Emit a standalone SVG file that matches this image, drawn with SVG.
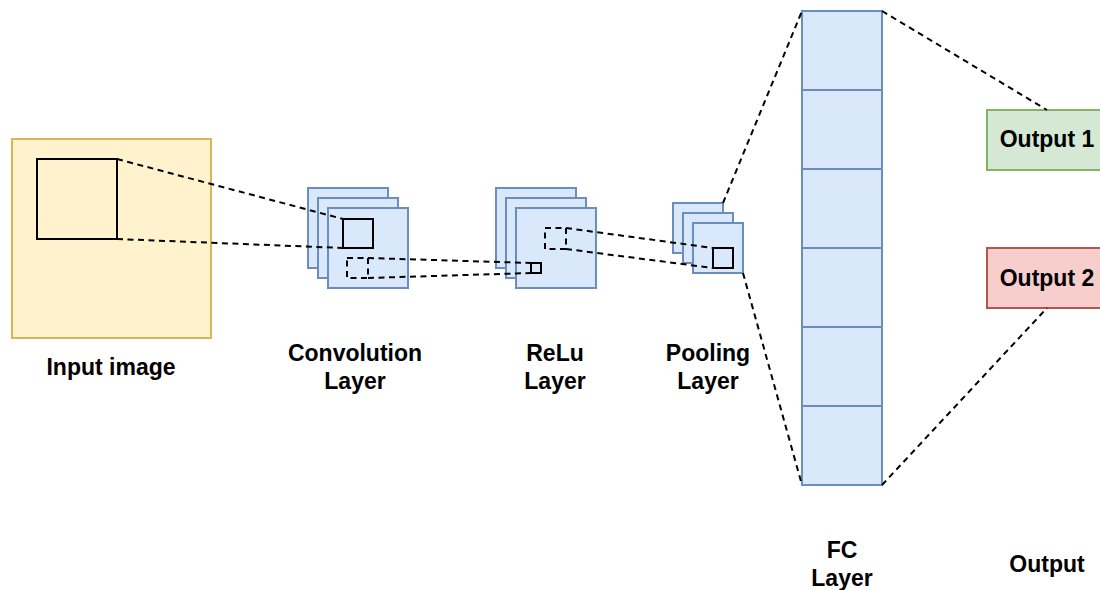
<svg xmlns="http://www.w3.org/2000/svg" width="1100" height="590" viewBox="0 0 1100 590">
<style>
.lbl{font-family:"Liberation Sans",Arial,sans-serif;font-weight:bold;font-size:23px;fill:#000;text-anchor:middle}
.blue{fill:#dae8fc;stroke:#6c8ebf;stroke-width:2}
.solid{fill:none;stroke:#000;stroke-width:2}
.dash{fill:none;stroke:#000;stroke-width:2;stroke-dasharray:6 4.5}
</style>
<rect width="1100" height="590" fill="#fff"/>
<g id="input">
<rect x="12" y="139" width="199" height="199" fill="#fff2cc" stroke="#d6b656" stroke-width="2"/>
<rect x="37" y="159" width="80" height="80" class="solid"/>
<text class="lbl" x="111" y="375">Input image</text>
</g>
<g id="conv">
<rect x="308" y="188" width="80" height="80" class="blue"/>
<rect x="318" y="198" width="80" height="80" class="blue"/>
<rect x="328" y="208" width="80" height="80" class="blue"/>
<rect x="343" y="219" width="30" height="29" class="solid"/>
<rect x="347" y="258" width="21" height="20" class="dash"/>
<text class="lbl" x="355" y="361">Convolution</text>
<text class="lbl" x="355" y="389">Layer</text>
</g>
<g id="relu">
<rect x="496" y="188" width="80" height="80" class="blue"/>
<rect x="506" y="198" width="80" height="80" class="blue"/>
<rect x="516" y="208" width="80" height="80" class="blue"/>
<rect x="531" y="263" width="10" height="10" class="solid"/>
<rect x="545" y="228" width="21" height="21" class="dash"/>
<text class="lbl" x="555" y="361">ReLu</text>
<text class="lbl" x="555" y="389">Layer</text>
</g>
<g id="pool">
<rect x="673" y="203" width="50" height="50" class="blue"/>
<rect x="683" y="213" width="50" height="50" class="blue"/>
<rect x="693" y="223" width="50" height="50" class="blue"/>
<rect x="713" y="248" width="20" height="20" class="solid"/>
<text class="lbl" x="708" y="361">Pooling</text>
<text class="lbl" x="708" y="389">Layer</text>
</g>
<g id="fc">
<rect x="802" y="11" width="80" height="79" class="blue"/>
<rect x="802" y="90" width="80" height="79" class="blue"/>
<rect x="802" y="169" width="80" height="79" class="blue"/>
<rect x="802" y="248" width="80" height="79" class="blue"/>
<rect x="802" y="327" width="80" height="79" class="blue"/>
<rect x="802" y="406" width="80" height="79" class="blue"/>
<text class="lbl" x="842" y="558">FC</text>
<text class="lbl" x="842" y="586">Layer</text>
</g>
<g id="output1">
<rect x="987" y="110" width="120" height="60" fill="#d5e8d4" stroke="#82b366" stroke-width="2"/>
<text class="lbl" x="1047" y="147">Output 1</text>
</g>
<g id="output2">
<rect x="987" y="248" width="120" height="60" fill="#f8cecc" stroke="#b85450" stroke-width="2"/>
<text class="lbl" x="1047" y="286">Output 2</text>
</g>
<g id="outlabel">
<text class="lbl" x="1047" y="572">Output</text>
</g>
<g id="connectors">
<line x1="117" y1="159" x2="343" y2="219" class="dash"/>
<line x1="117" y1="239" x2="343" y2="248" class="dash"/>
<line x1="368" y1="258" x2="531" y2="263" class="dash"/>
<line x1="368" y1="278" x2="531" y2="273" class="dash"/>
<line x1="566" y1="228" x2="713" y2="248" class="dash"/>
<line x1="566" y1="249" x2="713" y2="268" class="dash"/>
<line x1="723" y1="203" x2="802" y2="11" class="dash"/>
<line x1="743" y1="273" x2="802" y2="485" class="dash"/>
<line x1="882" y1="11" x2="1047" y2="110" class="dash"/>
<line x1="882" y1="485" x2="1047" y2="308" class="dash"/>
</g>
</svg>
